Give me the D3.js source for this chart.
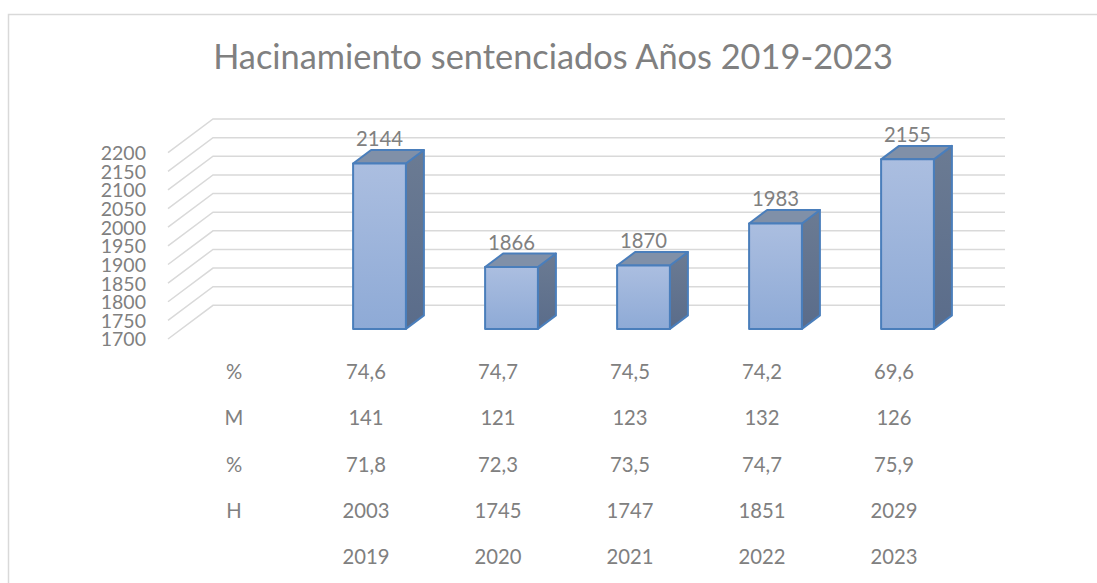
<!DOCTYPE html>
<html><head><meta charset="utf-8">
<script src="https://cdn.jsdelivr.net/npm/d3@7"></script>
<style>
html,body{margin:0;padding:0;background:#fff;}
svg{display:block;}
text{font-family:Lato,"Open Sans",sans-serif;fill:#808080;}
</style></head>
<body>
<svg id="chart" width="1097" height="583"></svg>
<script>
// ---- data ----
const title = "Hacinamiento sentenciados Años 2019-2023";
const years = ["2019","2020","2021","2022","2023"];
const totals = [2144, 1866, 1870, 1983, 2155];
const pctMujeres = [74.6, 74.7, 74.5, 74.2, 69.6];
const mujeres = [141, 121, 123, 132, 126];
const pctHombres = [71.8, 72.3, 73.5, 74.7, 75.9];
const hombres = [2003, 1745, 1747, 1851, 2029];
const rowLabels = ["%", "M", "%", "H"];
const yDomain = [1700, 2200];
const yStep = 50;

// ---- layout ----
const svg = d3.select("#chart");
const W = 1097, H = 583;
const frontLeft = 168, frontRight = 960;
const depth = {x: 45, y: -33.7};
const barDepth0 = 0.3, barDepth = 0.4;

const fmtComma = d => d3.format(".1f")(d).replace(".", ",");

// border
svg.append("rect").attr("x", 8.5).attr("y", 14.5).attr("width", W).attr("height", H)
  .attr("fill", "none").attr("stroke", "#d9d9d9").attr("stroke-width", 1.5);

// scales
const cols = [""].concat(years);
const x = d3.scaleBand().domain(cols).range([frontLeft, frontRight]).padding(0);
const y = d3.scaleLinear().domain(yDomain).range([339, 152.7]);
const ticks = d3.range(yDomain[0], yDomain[1] + 1, yStep);

// fit helper
function fitSize(str, target, base, weight) {
  const t = svg.append("text").attr("font-size", base).attr("font-weight", weight || 400).text(str);
  const w = t.node().getComputedTextLength();
  t.remove();
  return base * target / w;
}
const smallSize = fitSize("2200", 47, 20);
const axisSize = Math.min(smallSize, 19.5);
const titleSize = fitSize(title, 680, 32);

// title
svg.append("text").attr("x", 553).attr("y", 69.3).attr("text-anchor", "middle")
  .attr("font-size", titleSize).text(title);

// gridlines
const grid = svg.append("g").attr("stroke", "#d9d9d9").attr("stroke-width", 1.5).attr("fill", "none");
ticks.forEach(v => {
  const yy = y(v);
  grid.append("path").attr("d", `M${frontLeft},${yy}L${frontLeft + depth.x},${yy + depth.y}L${frontRight + depth.x},${yy + depth.y}`);
});

// y labels
svg.append("g").selectAll("text").data(ticks).join("text")
  .attr("x", 146).attr("y", d => y(d) + 2.5)
  .attr("text-anchor", "end").attr("dominant-baseline", "middle")
  .attr("font-size", axisSize).text(d => d);

// gradients
const defs = svg.append("defs");
const gFront = defs.append("linearGradient").attr("id", "gFront").attr("x1", 0).attr("y1", 0).attr("x2", 0).attr("y2", 1);
gFront.append("stop").attr("offset", "0%").attr("stop-color", "#abbee0");
gFront.append("stop").attr("offset", "100%").attr("stop-color", "#8eaad6");
const gSide = defs.append("linearGradient").attr("id", "gSide").attr("x1", 0).attr("y1", 0).attr("x2", 0).attr("y2", 1);
gSide.append("stop").attr("offset", "0%").attr("stop-color", "#6b7b93");
gSide.append("stop").attr("offset", "100%").attr("stop-color", "#5a6c8a");

// bars
const bw = x.bandwidth() * 0.4;
const ox = depth.x * barDepth0, oy = depth.y * barDepth0;
const dx = depth.x * barDepth, dy = depth.y * barDepth;
const bars = svg.append("g");
years.forEach((yr, i) => {
  const cx = x(yr) + x.bandwidth() / 2 + ox;
  const x0 = cx - bw / 2, x1 = cx + bw / 2;
  const yb = y(yDomain[0]) + oy, yt = y(totals[i]) + oy;
  const g = bars.append("g").attr("stroke", "#4a7ebb").attr("stroke-width", 2).attr("stroke-linejoin", "round");
  g.append("path").attr("fill", "url(#gSide)")
    .attr("d", `M${x1},${yt}L${x1 + dx},${yt + dy}L${x1 + dx},${yb + dy}L${x1},${yb}Z`);
  g.append("path").attr("fill", "#8090a8")
    .attr("d", `M${x0},${yt}L${x0 + dx},${yt + dy}L${x1 + dx},${yt + dy}L${x1},${yt}Z`);
  g.append("rect").attr("x", x0).attr("y", yt).attr("width", bw).attr("height", yb - yt).attr("fill", "url(#gFront)");
  svg.append("text").attr("x", cx).attr("y", yt + dy - 4).attr("text-anchor", "middle")
    .attr("font-size", smallSize).text(totals[i]);
});

// data table
const rows = [
  pctMujeres.map(fmtComma),
  mujeres.map(String),
  pctHombres.map(fmtComma),
  hombres.map(String),
  years
];
const rowY0 = 379, rowGap = 46.25;
const table = svg.append("g").attr("text-anchor", "middle").attr("font-size", smallSize);
rows.forEach((r, ri) => {
  const yy = rowY0 + ri * rowGap;
  if (ri < rowLabels.length) {
    table.append("text").attr("x", x("") + x.bandwidth() / 2).attr("y", yy).text(rowLabels[ri]);
  }
  r.forEach((v, ci) => {
    table.append("text").attr("x", x(years[ci]) + x.bandwidth() / 2).attr("y", yy).text(v);
  });
});
</script>
</body></html>
